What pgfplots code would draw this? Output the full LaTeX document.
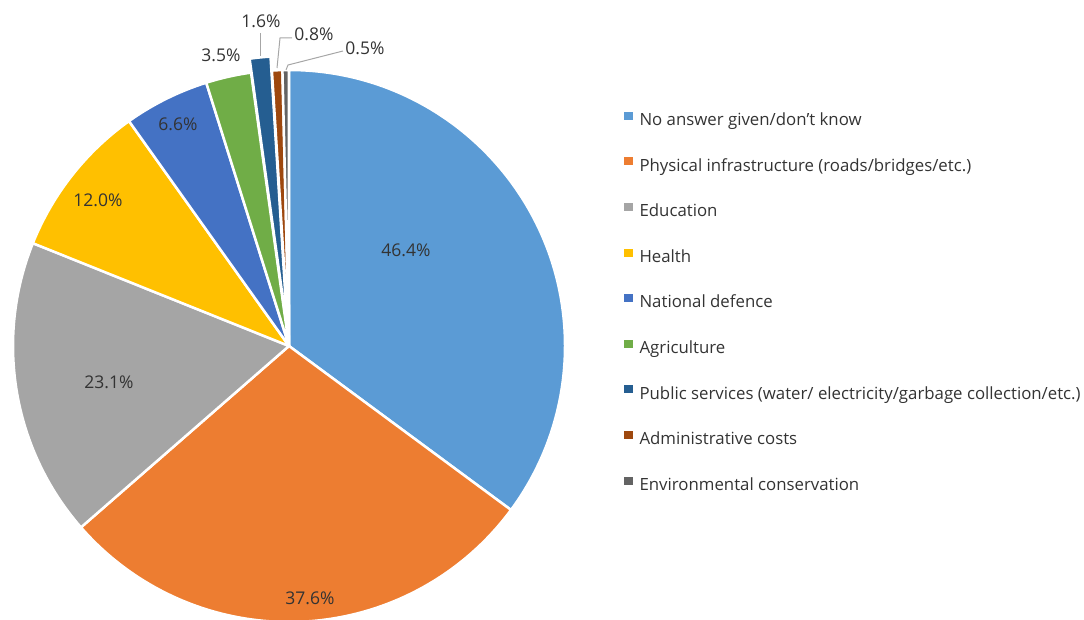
\documentclass[border=0pt]{standalone}
\usepackage{pgfplots}
\pgfplotsset{compat=1.18}
\usepackage{fontspec}
\setmainfont{Open Sans}
\definecolor{c1}{HTML}{5B9BD5}
\definecolor{c2}{HTML}{ED7D31}
\definecolor{c3}{HTML}{A5A5A5}
\definecolor{c4}{HTML}{FFC000}
\definecolor{c5}{HTML}{4472C4}
\definecolor{c6}{HTML}{70AD47}
\definecolor{c7}{HTML}{255E91}
\definecolor{c8}{HTML}{9E480E}
\definecolor{c9}{HTML}{636363}
\definecolor{txt}{HTML}{333333}
\definecolor{lead}{HTML}{A6A6A6}
% slice: value, colour, explode (px)
\newcommand\slice[3]{%
  \pgfmathsetmacro\pieE{\pieS-#1/132.1*360}%
  \pgfmathsetmacro\pieM{(\pieS+\pieE)/2}%
  \edef\temp{\noexpand\fill[#2, draw=white, line width=2.5pt, line join=round]
    (axis cs:289,346) ++(\pieM:#3pt) -- ++(\pieS:276pt)
    arc[start angle=\pieS, end angle=\pieE, radius=276pt] -- cycle;}%
  \temp
  \global\let\pieS\pieE}
\begin{document}
\begin{tikzpicture}
\begin{axis}[
  scale only axis, width=1084pt, height=620pt,
  xmin=0, xmax=1084, ymin=0, ymax=620, y dir=reverse,
  hide axis, clip=false,
  legend style={at={(axis description cs:0.5756,0.5113)}, anchor=west, draw=none, fill=none,
    font=\fontsize{16.8}{18}\selectfont, text=txt,
    row sep=27.9pt, column sep=7pt, inner sep=0pt,
    nodes={inner sep=0pt, text height=13pt, text depth=4pt}},
  legend cell align=left,
  legend image code/.code={\fill[#1] (0pt,2pt) rectangle (8pt,9pt);},
]
\addlegendimage{c1}\addlegendentry{No answer given/don’t know}
\addlegendimage{c2}\addlegendentry{Physical infrastructure (roads/bridges/etc.)}
\addlegendimage{c3}\addlegendentry{Education}
\addlegendimage{c4}\addlegendentry{Health}
\addlegendimage{c5}\addlegendentry{National defence}
\addlegendimage{c6}\addlegendentry{Agriculture}
\addlegendimage{c7}\addlegendentry{Public services (water/ electricity/garbage collection/etc.)}
\addlegendimage{c8}\addlegendentry{Administrative costs}
\addlegendimage{c9}\addlegendentry{Environmental conservation}
\gdef\pieS{90}
\slice{46.4}{c1}{0}
\slice{37.6}{c2}{0}
\slice{23.1}{c3}{0}
\slice{12.0}{c4}{0}
\slice{6.6}{c5}{0}
\slice{3.5}{c6}{0}
\slice{1.6}{c7}{14}
\slice{0.8}{c8}{0}
\slice{0.5}{c9}{0}
\tikzset{lbl/.style={font=\fontsize{17.5}{19}\selectfont, text=txt, inner sep=0pt}}
\node[lbl] at (axis cs:406,250) {46.4\%};
\node[lbl] at (axis cs:310,598) {37.6\%};
\node[lbl] at (axis cs:109,382) {23.1\%};
\node[lbl] at (axis cs:98,200) {12.0\%};
\node[lbl] at (axis cs:178,124) {6.6\%};
\node[lbl] at (axis cs:221,55) {3.5\%};
\node[lbl] at (axis cs:261,21) {1.6\%};
\node[lbl] at (axis cs:314,34) {0.8\%};
\node[lbl] at (axis cs:365,48) {0.5\%};
\draw[lead, line width=1pt] (axis cs:260,33) -- (axis cs:260,56);
\draw[lead, line width=1pt] (axis cs:292,38) -- (axis cs:280,38) -- (axis cs:277,68);
\draw[lead, line width=1pt] (axis cs:343,51) -- (axis cs:288,65) -- (axis cs:286,70);
\end{axis}
\pgfresetboundingbox
\useasboundingbox (current axis.south west) rectangle (current axis.north east);
\end{tikzpicture}
\end{document}
